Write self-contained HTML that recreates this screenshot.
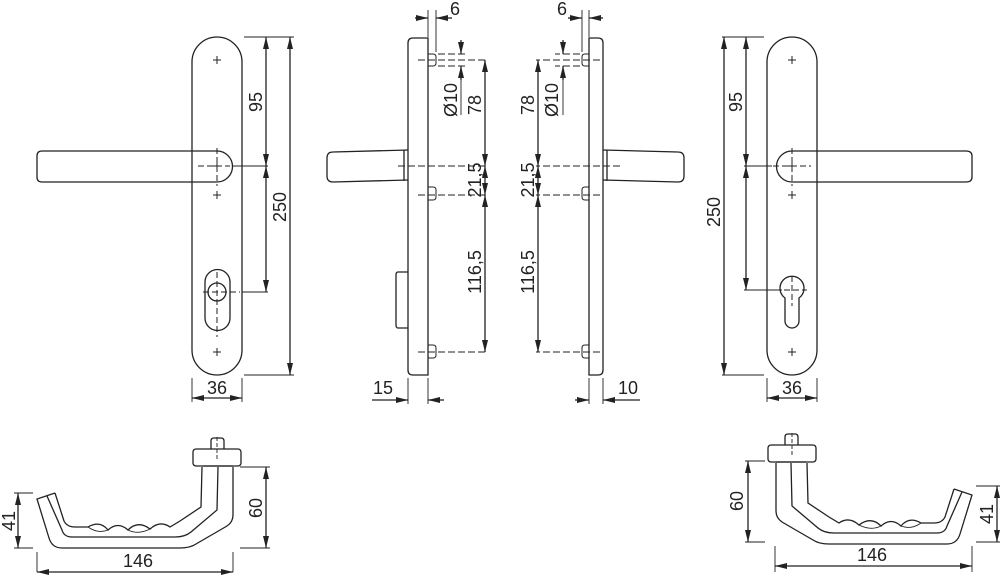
<!DOCTYPE html>
<html><head><style>
html,body{margin:0;padding:0;background:#fff;}
svg{display:block;}
text{font-family:"Liberation Sans",sans-serif;font-size:18px;fill:#222;}
</style></head><body>
<svg width="1000" height="577" viewBox="0 0 1000 577" xmlns="http://www.w3.org/2000/svg">
<defs>
<marker id="a" viewBox="0 0 12 6" refX="12" refY="3" markerWidth="12" markerHeight="6" markerUnits="userSpaceOnUse" orient="auto-start-reverse"><path d="M0,0 L12,3 L0,6 z" fill="#222"/></marker>
<g id="hb">
<rect x="193" y="449" width="48" height="17" rx="3"/>
<path d="M211,449V441q0-3 3-3h7q3,0 3,3v8"/>
<path d="M217,437V460" stroke-dasharray="4,2" stroke-width="0.9"/>
<path d="M203,466H233"/>
<path d="M233,467L233,515Q233,522 227,526L196,544Q190,548 180,548L62,548Q52,548 49,538L37,499L55,493"/>
<path d="M218,467L217,510L191,532Q185,537 175,537L72,537Q64,537 62,530L47,496"/>
<path d="M55,493L64,521Q67,527 75,527L88,527Q100,520 108,530Q118,521 128,530Q138,520 150,529Q160,520 170,527L180,521L201,507L202,467"/>
<path d="M88,527Q98,534 108,530M128,530Q138,535 150,529" stroke-width="0.9"/>
</g>
</defs>
<g fill="none" stroke="#222" stroke-width="1.3">
<!-- LEFT FRONT VIEW -->
<rect x="192" y="37" width="50" height="338" rx="25"/>
<path d="M217,151 L42,151 Q37,151 37,156 L37,177 Q37,182 42,182 L217,182 A15.5,15.5 0 0 0 217,151"/>
<g stroke-width="1"><path d="M213,60h8M217,56v8M213,195h8M217,191v8M213,352h8M217,348v8M213,166h8M217,162v8"/>
<path d="M198,166h32M217,148v38M203,292h37M217,272v65" stroke-dasharray="6,3"/></g>
<path d="M205,282 A12,12 0 0 1 230,282 L230,318 A12,12 0 0 1 205,318 Z"/>
<circle cx="217" cy="292" r="9"/>
<g stroke-width="0.9"><path d="M244,37h50M244,375h50M232,166h36M242,292h26M192,378v24M242,378v24"/></g>
<path d="M266,37V166" marker-start="url(#a)" marker-end="url(#a)"/>
<path d="M266,166V292" marker-start="url(#a)" marker-end="url(#a)"/>
<path d="M290,37V375" marker-start="url(#a)" marker-end="url(#a)"/>
<path d="M192,398H242" marker-start="url(#a)" marker-end="url(#a)"/>

<!-- RIGHT FRONT VIEW -->
<rect x="767" y="37" width="50" height="338" rx="25"/>
<path d="M792,151 L966,151 Q972,151 972,156 L972,177 Q972,182 966,182 L792,182 A15.5,15.5 0 0 1 792,151"/>
<g stroke-width="1"><path d="M788,60h8M792,56v8M788,195h8M792,191v8M788,352h8M792,348v8M788,166h8M792,162v8"/>
<path d="M773,166h38M792,148v38M775,290h32M792,276v30" stroke-dasharray="6,3"/></g>
<path d="M785,298 A12,12 0 1 1 799,298 L799,321 A7,7 0 0 1 785,321 Z"/>
<g stroke-width="0.9"><path d="M722,37h42M722,375h42M744,166h28M744,290h38M767,378v24M817,378v24"/></g>
<path d="M746,37V166" marker-start="url(#a)" marker-end="url(#a)"/>
<path d="M746,166V290" marker-start="url(#a)" marker-end="url(#a)"/>
<path d="M724,37V375" marker-start="url(#a)" marker-end="url(#a)"/>
<path d="M767,398H817" marker-start="url(#a)" marker-end="url(#a)"/>

<!-- LEFT SIDE VIEW -->
<path d="M428,38 L413,38 Q408,38 408,43 L408,370 Q408,375 413,375 L428,375 Z"/>
<path d="M408,150 L333,152 Q327,152 327,158 L327,176 Q327,182 333,182 L408,180"/>
<path d="M404,150V181M408,272H398Q396,272 396,275V325Q396,328 398,328H408"/>
<g stroke-width="1"><path d="M428,54h5q3,0 3,3v6q0,3-3,3h-5M428,187h5q3,0 3,3v7q0,3-3,3h-5M428,345h5q3,0 3,3v7q0,3-3,3h-5"/>
<path d="M398,166H487M418,60H487M418,195H487M418,352H487M438,54H465M438,66H465" stroke-dasharray="7,3"/></g>
<g stroke-width="0.9"><path d="M428,10V37M436,10V52M408,378V404M428,378V404"/></g>
<path d="M415,18H428" marker-end="url(#a)"/><path d="M452,18H436" marker-end="url(#a)"/>
<path d="M461,40V54" marker-end="url(#a)"/><path d="M461,80V66" marker-end="url(#a)"/><path d="M461,66V115" stroke-width="0.9"/>
<path d="M485,60V166" marker-start="url(#a)" marker-end="url(#a)"/>
<path d="M485,166V195" marker-start="url(#a)" marker-end="url(#a)"/>
<path d="M485,195V352" marker-start="url(#a)" marker-end="url(#a)"/>
<path d="M372,400H408" marker-end="url(#a)"/><path d="M444,400H428" marker-end="url(#a)"/>

<!-- RIGHT SIDE VIEW -->
<path d="M589,38 L598,38 Q603,38 603,43 L603,370 Q603,375 598,375 L589,375 Z"/>
<path d="M603,150 L678,152 Q684,152 684,158 L684,176 Q684,182 678,182 L603,180"/>
<path d="M607,150V181"/>
<g stroke-width="1"><path d="M589,54h-4q-3,0-3,3v6q0,3 3,3h4M589,187h-4q-3,0-3,3v7q0,3 3,3h4M589,345h-4q-3,0-3,3v7q0,3 3,3h4"/>
<path d="M620,166H536M600,60H536M600,195H536M600,352H536M580,54H555M580,66H555" stroke-dasharray="7,3"/></g>
<g stroke-width="0.9"><path d="M589,10V37M582,10V52M589,378V404M603,378V404"/></g>
<path d="M568,18H582" marker-end="url(#a)"/><path d="M603,18H589" marker-end="url(#a)"/>
<path d="M563,40V54" marker-end="url(#a)"/><path d="M563,80V66" marker-end="url(#a)"/><path d="M563,66V115" stroke-width="0.9"/>
<path d="M538,60V166" marker-start="url(#a)" marker-end="url(#a)"/>
<path d="M538,166V195" marker-start="url(#a)" marker-end="url(#a)"/>
<path d="M538,195V352" marker-start="url(#a)" marker-end="url(#a)"/>
<path d="M575,400H589" marker-end="url(#a)"/><path d="M640,400H603" marker-end="url(#a)"/>

<!-- BOTTOM HANDLES -->
<use href="#hb"/>
<use href="#hb" transform="translate(1009,-4) scale(-1,1)"/>
<g stroke-width="0.9"><path d="M14,493H33M14,548H33M240,467H270M240,548H270M37,552V572M233,552V572"/></g>
<path d="M18,493V548" marker-start="url(#a)" marker-end="url(#a)"/>
<path d="M266,467V548" marker-start="url(#a)" marker-end="url(#a)"/>
<path d="M37,572H233" marker-start="url(#a)" marker-end="url(#a)"/>
<g stroke-width="0.9"><path d="M745,461H765M745,542H765M976,486H1000M976,542H1000M775,546V572M972,546V572"/></g>
<path d="M748,461V542" marker-start="url(#a)" marker-end="url(#a)"/>
<path d="M997,486V542" marker-start="url(#a)" marker-end="url(#a)"/>
<path d="M775,566H972" marker-start="url(#a)" marker-end="url(#a)"/>
</g>

<!-- TEXT -->
<g>
<text transform="translate(262,102) rotate(-90)" text-anchor="middle">95</text>
<text transform="translate(286,207) rotate(-90)" text-anchor="middle">250</text>
<text x="217" y="394" text-anchor="middle">36</text>
<text transform="translate(742,102) rotate(-90)" text-anchor="middle">95</text>
<text transform="translate(720,212) rotate(-90)" text-anchor="middle">250</text>
<text x="792" y="394" text-anchor="middle">36</text>

<text x="455" y="15" text-anchor="middle">6</text>
<text transform="translate(457,100) rotate(-90)" text-anchor="middle">Ø10</text>
<text transform="translate(481,105) rotate(-90)" text-anchor="middle">78</text>
<text transform="translate(481,180) rotate(-90)" text-anchor="middle">21,5</text>
<text transform="translate(481,272) rotate(-90)" text-anchor="middle">116,5</text>
<text x="383" y="394" text-anchor="middle">15</text>

<text x="562" y="15" text-anchor="middle">6</text>
<text transform="translate(558,100) rotate(-90)" text-anchor="middle">Ø10</text>
<text transform="translate(534,105) rotate(-90)" text-anchor="middle">78</text>
<text transform="translate(534,180) rotate(-90)" text-anchor="middle">21,5</text>
<text transform="translate(534,272) rotate(-90)" text-anchor="middle">116,5</text>
<text x="628" y="394" text-anchor="middle">10</text>

<text transform="translate(15,521) rotate(-90)" text-anchor="middle">41</text>
<text transform="translate(262,508) rotate(-90)" text-anchor="middle">60</text>
<text x="138" y="567" text-anchor="middle">146</text>
<text transform="translate(743,501) rotate(-90)" text-anchor="middle">60</text>
<text transform="translate(993,514) rotate(-90)" text-anchor="middle">41</text>
<text x="872" y="561" text-anchor="middle">146</text>
</g>
</svg>
</body></html>
